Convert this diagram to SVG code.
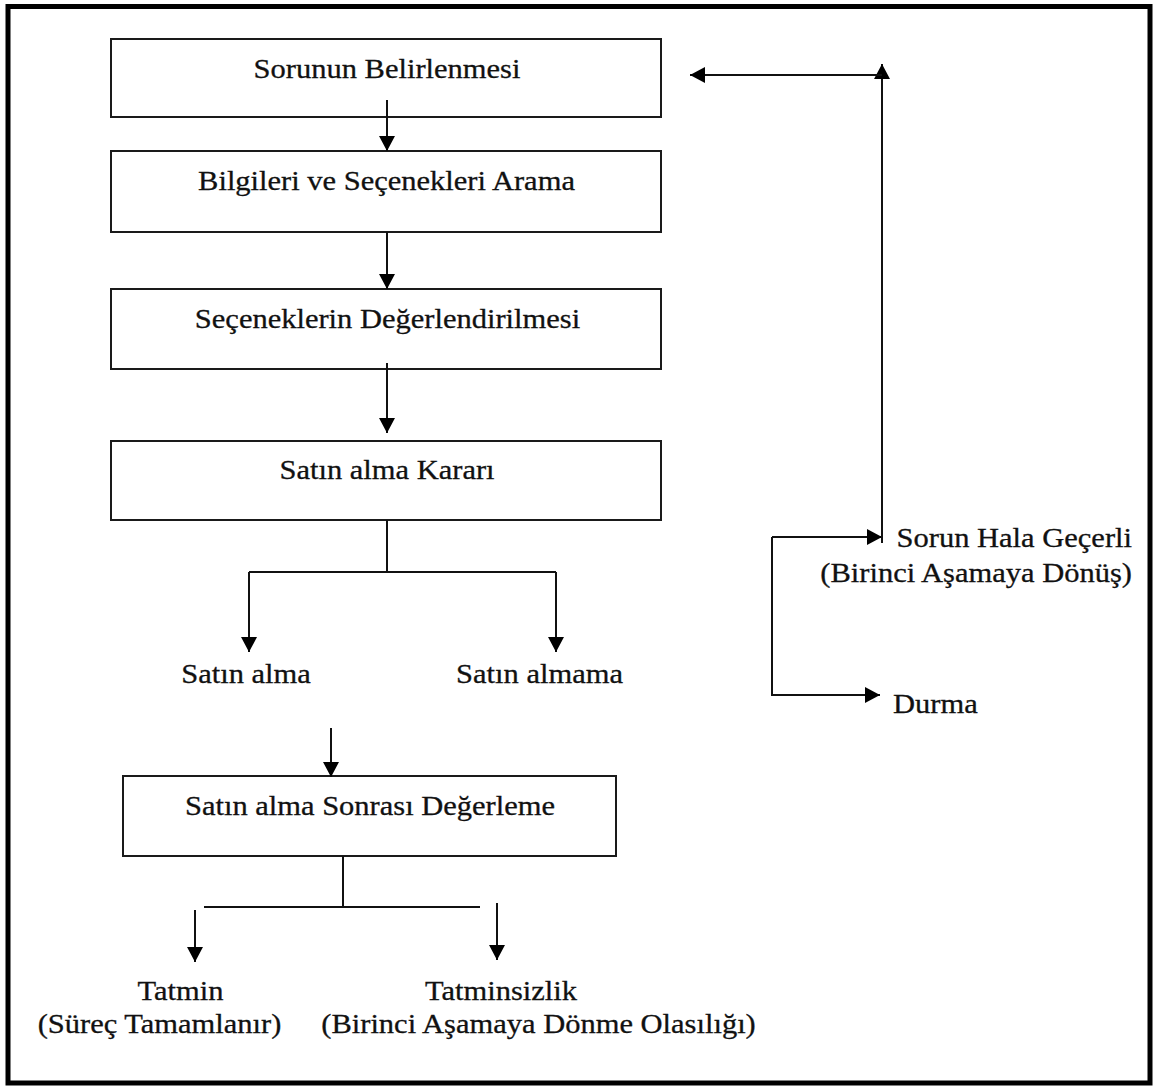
<svg xmlns="http://www.w3.org/2000/svg" width="1153" height="1088" viewBox="0 0 1153 1088">
  <style>
    .frame { fill: #ffffff; stroke: #000000; stroke-width: 5; }
    .box { fill: #ffffff; stroke: #1a1a1a; stroke-width: 2; }
    .lbl { font-family: "Liberation Serif", serif; font-size: 28px; fill: #111111; stroke: #111111; stroke-width: 0.3px; }
    .mid { text-anchor: middle; }
    .end { text-anchor: end; }
    .start { text-anchor: start; }
    .wire { fill: none; stroke: #111111; stroke-width: 2; }
    .arrow { fill: none; stroke: #111111; stroke-width: 2; marker-end: url(#head); }
  </style>
  <defs>
    <marker id="head" markerUnits="userSpaceOnUse" markerWidth="16" markerHeight="16" refX="15" refY="8" orient="auto">
      <path d="M0,0 L15,8 L0,16 Z" fill="#000000"/>
    </marker>
  </defs>

  <!-- outer frame -->
  <rect class="frame" x="8" y="6.5" width="1142" height="1076.5"/>

  <!-- decision stages; labels are widened slightly with a horizontal scale -->
  <g id="sorunun-belirlenmesi">
    <rect class="box" x="111" y="39" width="550" height="78"/>
    <text class="lbl mid" transform="translate(387 78) scale(1.09 1)">Sorunun Belirlenmesi</text>
  </g>
  <g id="bilgi-arama">
    <rect class="box" x="111" y="151" width="550" height="81"/>
    <text class="lbl mid" transform="translate(386.5 190) scale(1.09 1)">Bilgileri ve Seçenekleri Arama</text>
  </g>
  <g id="degerlendirme">
    <rect class="box" x="111" y="289" width="550" height="80"/>
    <text class="lbl mid" transform="translate(387.5 328) scale(1.09 1)">Seçeneklerin Değerlendirilmesi</text>
  </g>
  <g id="satin-alma-karari">
    <rect class="box" x="111" y="441" width="550" height="79"/>
    <text class="lbl mid" transform="translate(387 479) scale(1.09 1)">Satın alma Kararı</text>
  </g>
  <g id="satin-alma">
    <text class="lbl mid" transform="translate(246 683) scale(1.09 1)">Satın alma</text>
  </g>
  <g id="satin-almama">
    <text class="lbl mid" transform="translate(539.5 683) scale(1.09 1)">Satın almama</text>
  </g>
  <g id="sonrasi-degerleme">
    <rect class="box" x="123" y="776" width="493" height="80"/>
    <text class="lbl mid" transform="translate(370 815) scale(1.09 1)">Satın alma Sonrası Değerleme</text>
  </g>
  <g id="tatmin">
    <text class="lbl mid" transform="translate(180.5 1000) scale(1.09 1)">Tatmin</text>
    <text class="lbl mid" transform="translate(159.5 1033) scale(1.09 1)">(Süreç Tamamlanır)</text>
  </g>
  <g id="tatminsizlik">
    <text class="lbl mid" transform="translate(501 1000) scale(1.09 1)">Tatminsizlik</text>
    <text class="lbl mid" transform="translate(538.5 1033) scale(1.09 1)">(Birinci Aşamaya Dönme Olasılığı)</text>
  </g>
  <g id="sorun-hala-gecerli">
    <text class="lbl end" transform="translate(1132 547) scale(1.09 1)">Sorun Hala Geçerli</text>
    <text class="lbl end" transform="translate(1132 582) scale(1.09 1)">(Birinci Aşamaya Dönüş)</text>
  </g>
  <g id="durma">
    <text class="lbl start" transform="translate(893 713) scale(1.09 1)">Durma</text>
  </g>

  <!-- connectors -->
  <g id="connectors">
    <path class="arrow" d="M387,100 V151"/>
    <path class="arrow" d="M387,232 V289"/>
    <path class="arrow" d="M387,363 V433"/>

    <!-- purchase decision split -->
    <path class="wire" d="M387,520 V572 M249,572 H556"/>
    <path class="arrow" d="M249,572 V652"/>
    <path class="arrow" d="M556,572 V652"/>

    <path class="arrow" d="M331,728 V777"/>

    <!-- post-purchase split -->
    <path class="wire" d="M343,856 V907 M204,907 H480"/>
    <path class="arrow" d="M195,910 V962"/>
    <path class="arrow" d="M497,903 V960"/>

    <!-- feedback loop on the right -->
    <path class="arrow" d="M772,537 H882"/>
    <path class="arrow" d="M772,537 V695 H880"/>
    <path class="arrow" d="M882,543 V64"/>
    <path class="arrow" d="M882,75 H690"/>
  </g>
</svg>
